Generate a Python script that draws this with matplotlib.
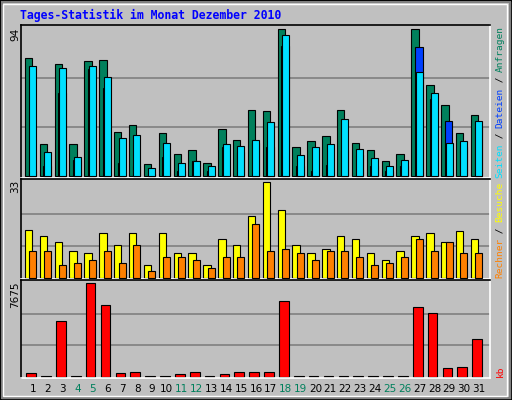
import matplotlib
matplotlib.use("Agg")
import matplotlib.pyplot as plt
from matplotlib.patches import Rectangle

days = list(range(1, 32))
hits = [75.5,20.6,71.7,20.6,73.6,74.3,28.3,32.8,7.4,27.7,14.3,16.8,8.5,30.2,23.2,42.3,41.7,94,18.7,22.6,25.7,42.3,21.3,16.8,9.8,14.3,94,58.3,45.5,27.7,39.1]
files = [70.4,15.5,69.1,12.3,70.4,63.4,24.5,26.4,4.7,21.3,8.5,9.8,6.6,20.6,19.4,23.2,34.7,90.2,13.6,18.7,20.6,36.6,17.4,11.7,6.6,10.4,66.6,53.2,21.3,22.6,35.3]
pages = [3.4,6.6,53.2,10.4,68.5,56.4,8.5,6.6,1,12.3,3.4,9.8,2.8,18.7,15.5,21.3,18.7,83.2,6.6,2.8,7.2,16.8,13.6,6.6,3.4,6.6,82.6,49.4,35.3,18.7,31.5]
visits = [16.3,14.4,12.2,9.3,8.3,15.2,11.2,15.2,4.3,15.2,8.3,8.3,4.3,13.3,11.1,21.2,33,23.3,11.1,8.3,10,14.4,13.3,8.3,6.1,9.3,14.4,15.2,12.2,16.1,13.3]
sites = [9.3,9.3,4.3,5,6.1,9.3,5,11.1,2.2,7.2,7.2,6.1,3.2,7.2,7.2,18.3,9.3,10,8.3,6.1,9.3,9.3,7.2,4.3,5,7.2,13.3,9.3,12.2,8.3,8.3]
kbytes = [280,84,4566,84,7675,5826,280,364,84,84,196,364,84,196,364,364,364,6162,84,84,84,84,84,84,84,84,5658,5238,700,784,3053]
weekend = [4,5,11,12,18,19,25,26]
max_hits, max_visits, max_kb = 94, 33, 7675

W, H = 512, 400
fig = plt.figure(figsize=(5.12, 4.0), dpi=100)
fig.patch.set_facecolor('#C0C0C0')

def fr(x0, y0, x1, y1):
    return [x0 / W, 1 - y1 / H, (x1 - x0) / W, (y1 - y0) / H]

fig.patches.append(Rectangle((0, 0), 1, 1, transform=fig.transFigure, fill=False, ec='black', lw=2))
fig.patches.append(Rectangle((2/W, 2/H), 1-4/W, 1-4/H, transform=fig.transFigure, fill=False, ec='#808080', lw=1.5))
fig.patches.append(Rectangle((3/W, 4/H), 1-8/W, 1-8/H, transform=fig.transFigure, fill=False, ec='white', lw=1))

EC = 'black'
LW = 0.8
xl = (0.19, 31.74)

def setup(ax, ymax):
    ax.set_facecolor('#C0C0C0')
    ax.set_xlim(*xl)
    ax.set_ylim(-ymax * 0.015, ymax * 1.03)
    ax.set_xticks([]); ax.set_yticks([])
    for y in (ymax / 3, 2 * ymax / 3):
        ax.axhline(y, color='#808080', lw=1.2, zorder=0)
    for s in ('left', 'top'):
        ax.spines[s].set_color('black')
    for s in ('right', 'bottom'):
        ax.spines[s].set_color('white')
    for s in ax.spines.values():
        s.set_linewidth(1.2)

ax1 = fig.add_axes(fr(21, 25, 490, 178))
setup(ax1, max_hits)
ax1.bar([d - 0.55 for d in days], hits, width=0.5, align='edge', color='#00805C', ec=EC, lw=LW, zorder=2)
ax1.bar([d - 0.30 for d in days], pages, width=0.5, align='edge', color='#0040FF', ec=EC, lw=LW, zorder=3)
ax1.bar([d - 0.25 for d in days], files, width=0.47, align='edge', color='#00E0FF', ec=EC, lw=LW, zorder=4)

ax2 = fig.add_axes(fr(21, 179, 490, 279))
setup(ax2, max_visits)
ax2.bar([d - 0.55 for d in days], visits, width=0.5, align='edge', color='#FFFF00', ec=EC, lw=LW, zorder=2)
ax2.bar([d - 0.25 for d in days], sites, width=0.47, align='edge', color='#FF8000', ec=EC, lw=LW, zorder=3)

ax3 = fig.add_axes(fr(21, 280, 490, 378))
setup(ax3, max_kb)
ax3.bar([d - 0.45 for d in days], kbytes, width=0.65, align='edge', color='#FF0000', ec=EC, lw=LW, zorder=2)

for d in days:
    ax3.text(d, -0.06, str(d), transform=ax3.get_xaxis_transform(), ha='center', va='top',
             fontsize=7.5, family='DejaVu Sans', color='#00805C' if d in weekend else 'black')

fig.text(20/W, 1 - 15/H, 'Tages-Statistik im Monat Dezember 2010', color='#0000FF',
         family='DejaVu Sans Mono', weight='bold', fontsize=8.3, va='center', ha='left')

for txt, ytop in (('94', 28), ('33', 180), ('7675', 282)):
    fig.text(15/W, 1 - ytop/H, txt, rotation=90, ha='center', va='top', fontsize=7.5, family='DejaVu Sans')

def vlabel(parts, ybottom, cw=5.6):
    y = ybottom
    for txt, col in parts:
        fig.text(500/W, 1 - y/H, txt, rotation=90, ha='center', va='bottom', color=col,
                 family='DejaVu Sans Mono', fontsize=6.8)
        y -= len(txt) * cw

vlabel([('Seiten', '#00E0FF'), (' / ', 'black'), ('Dateien', '#0040FF'), (' / ', 'black'), ('Anfragen', '#00805C')], 178)
vlabel([('Rechner', '#FF8000'), (' / ', 'black'), ('Besuche', '#FFFF00')], 278)
vlabel([('kb', '#FF0000')], 377)

fig.savefig('out.png', dpi=100, facecolor=fig.get_facecolor())
